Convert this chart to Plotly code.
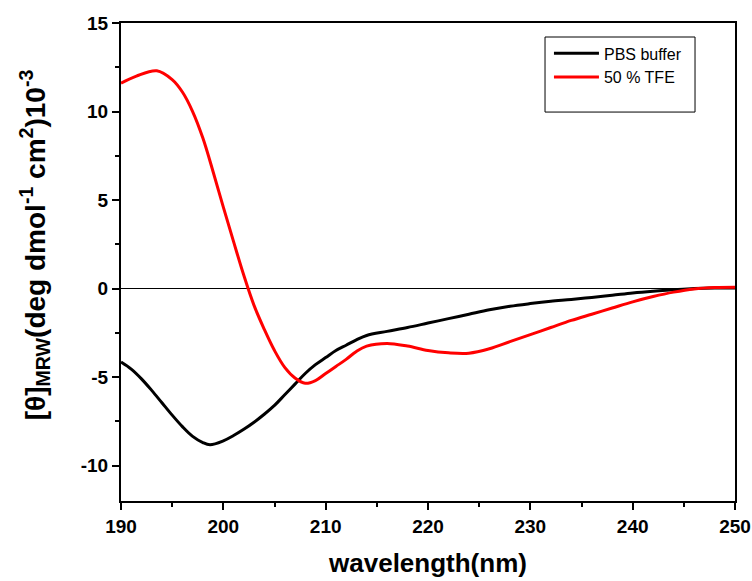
import plotly.graph_objects as go

# CD spectra, [theta]_MRW x 10^-3
pbs_nm = [190, 191, 192, 193, 194, 195, 196, 197, 198, 198.7, 200, 201, 202, 203, 204,
          205, 206, 207, 208, 209, 210, 211, 212, 213, 214, 216, 218, 220, 222, 224,
          226, 228, 230, 232, 234, 236, 238, 240, 242, 244, 246, 248, 250]
pbs_val = [-4.15, -4.55, -5.1, -5.75, -6.45, -7.15, -7.8, -8.35, -8.7, -8.82, -8.6, -8.3, -7.95,
           -7.55, -7.1, -6.6, -6.0, -5.4, -4.8, -4.3, -3.9, -3.5, -3.2, -2.9, -2.65, -2.42,
           -2.2, -1.95, -1.7, -1.45, -1.2, -1.0, -0.85, -0.72, -0.62, -0.5, -0.38, -0.25,
           -0.15, -0.07, 0.0, 0.03, 0.03]

tfe_nm = [190, 191.5, 193.5, 195, 196, 197, 198, 199, 200, 201, 202, 203, 204, 205, 206,
          207, 208, 209, 210, 211, 212, 213, 214, 216, 218, 220, 222, 224, 226, 228, 230,
          232, 234, 236, 238, 240, 242, 244, 246, 248, 250]
tfe_val = [11.6, 12.0, 12.3, 11.8, 11.1, 10.0, 8.5, 6.6, 4.6, 2.65, 0.75, -0.95, -2.3, -3.5,
           -4.45, -5.05, -5.35, -5.2, -4.8, -4.4, -4.0, -3.55, -3.25, -3.1, -3.25, -3.5, -3.63,
           -3.65, -3.4, -3.0, -2.6, -2.2, -1.8, -1.45, -1.1, -0.75, -0.45, -0.2, -0.02, 0.06,
           0.08]

x_ticks = [190, 200, 210, 220, 230, 240, 250]
y_ticks = [-10, -5, 0, 5, 10, 15]
y_labels = ["-10", "-5", "0", "5", "10", "15"]

fig = go.Figure()
fig.add_trace(go.Scatter(
    x=pbs_nm, y=pbs_val, mode="lines", name="PBS buffer",
    line=dict(color="black", width=3, shape="spline")
))
fig.add_trace(go.Scatter(
    x=tfe_nm, y=tfe_val, mode="lines", name="50 % TFE",
    line=dict(color="#ff0000", width=3, shape="spline")
))

# legend frame
fig.add_shape(type="rect", xref="paper", yref="paper",
              x0=0.6906, x1=0.9349, y0=0.8137, y1=0.9707,
              line=dict(color="black", width=1), fillcolor="rgba(0,0,0,0)")

# y title as annotation so it can sit a little above centre, like the original
fig.add_annotation(
    text="[θ]<sub>MRW</sub>(deg dmol<sup>-1</sup> cm<sup>2</sup>)10<sup>-3</sup>",
    xref="paper", yref="paper", x=-0.14, y=0.535,
    xanchor="center", yanchor="middle", textangle=-90, showarrow=False,
    font=dict(family="Liberation Sans, Arial", size=28, color="black", weight="bold"),
)

axis_font = dict(family="Liberation Sans, Arial", size=19, color="black", weight="bold")
title_font = dict(family="Liberation Sans, Arial", size=26, color="black", weight="bold")

fig.update_layout(
    width=752, height=581,
    margin=dict(l=121, r=17, t=23, b=80),
    plot_bgcolor="white", paper_bgcolor="white",
    showlegend=True,
    legend=dict(x=0.697, y=0.972, xanchor="left", yanchor="top",
                bgcolor="rgba(0,0,0,0)", borderwidth=0, tracegroupgap=0,
                itemwidth=45,
                font=dict(family="Liberation Sans, Arial", size=16, color="black")),
    xaxis=dict(
        range=[190, 250], tickvals=x_ticks,
        showgrid=False, zeroline=False, automargin=False,
        showline=True, linecolor="black", linewidth=2, mirror=True,
        ticks="outside", ticklen=7, tickwidth=2, tickcolor="black",
        minor=dict(ticks="outside", ticklen=4, tickwidth=2, dtick=5, tick0=190, tickcolor="black"),
        tickfont=axis_font,
        title=dict(text="wavelength(nm)", font=title_font, standoff=18),
    ),
    yaxis=dict(
        range=[-12, 15], tickvals=y_ticks, ticktext=y_labels,
        showgrid=False, automargin=False,
        zeroline=True, zerolinecolor="black", zerolinewidth=1,
        showline=True, linecolor="black", linewidth=2, mirror=True,
        ticks="outside", ticklen=7, tickwidth=2, tickcolor="black",
        minor=dict(ticks="outside", ticklen=4, tickwidth=2, dtick=2.5, tick0=0, tickcolor="black"),
        tickfont=axis_font,
    ),
)

# drop the default body margin so the figure sits at the window's corner
fig.write_html("out.html", config={"displayModeBar": False},
               post_script="document.body.style.margin='0';")
